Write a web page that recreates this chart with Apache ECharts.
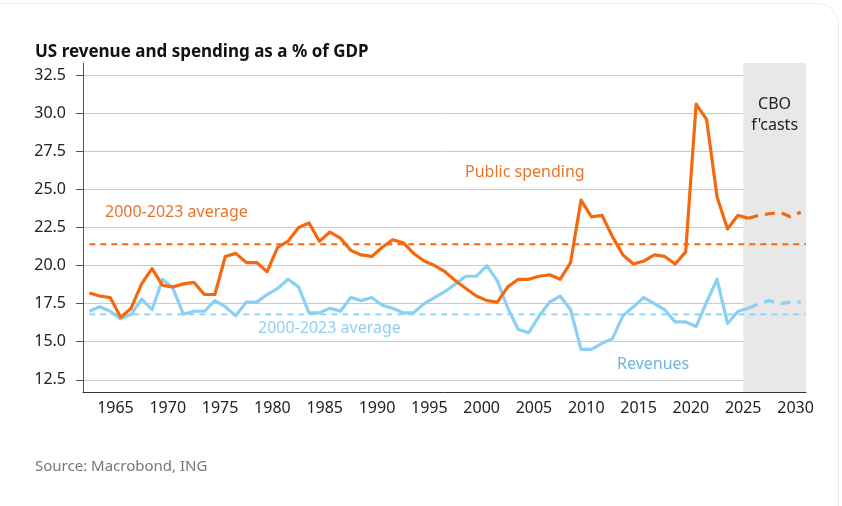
<!DOCTYPE html>
<html lang="en">
<head>
    <meta charset="UTF-8">
    <title>US revenue and spending as a % of GDP</title>
    <script src="https://cdn.jsdelivr.net/npm/echarts@6/dist/echarts.min.js"></script>
    <style>
        html, body { margin: 0; padding: 0; background: #fff; overflow: hidden; }
        #frame {
            position: absolute; left: -40px; top: 3px; right: 3px; bottom: -40px;
            border: 1px solid #ececec; border-radius: 22px;
        }
        #chart { position: absolute; left: 0; top: 0; width: 842px; height: 506px; }
    </style>
</head>
<body>
    <div id="frame"></div>
    <div id="chart"></div>

    <script>
        // 历史数据 1962-2025
        const firstYear = 1962;
        const spending = [
            18.2, 18.0, 17.9, 16.6, 17.2, 18.8, 19.8, 18.7, 18.6,          // 1962-1970
            18.8, 18.9, 18.1, 18.1, 20.6, 20.8, 20.2, 20.2, 19.6, 21.2,    // 1971-1980
            21.6, 22.5, 22.8, 21.6, 22.2, 21.8, 21.0, 20.7, 20.6, 21.2,    // 1981-1990
            21.7, 21.5, 20.8, 20.3, 20.0, 19.6, 19.0, 18.5, 18.0, 17.7,    // 1991-2000
            17.6, 18.6, 19.1, 19.1, 19.3, 19.4, 19.1, 20.2, 24.3, 23.2,    // 2001-2010
            23.3, 21.9, 20.7, 20.1, 20.3, 20.7, 20.6, 20.1, 20.9, 30.6,    // 2011-2020
            29.6, 24.5, 22.4, 23.3, 23.1                                   // 2021-2025
        ];
        const revenues = [
            17.0, 17.3, 17.0, 16.5, 16.8, 17.8, 17.1, 19.1, 18.5,          // 1962-1970
            16.8, 17.0, 17.0, 17.7, 17.3, 16.7, 17.6, 17.6, 18.1, 18.5,    // 1971-1980
            19.1, 18.6, 16.9, 16.9, 17.2, 17.0, 17.9, 17.7, 17.9, 17.4,    // 1981-1990
            17.2, 16.9, 16.9, 17.5, 17.9, 18.3, 18.8, 19.3, 19.3, 20.0,    // 1991-2000
            19.0, 17.2, 15.8, 15.6, 16.7, 17.6, 18.0, 17.1, 14.5, 14.5,    // 2001-2010
            14.9, 15.2, 16.7, 17.3, 17.9, 17.5, 17.1, 16.3, 16.3, 16.0,    // 2011-2020
            17.6, 19.1, 16.2, 17.0, 17.2                                   // 2021-2025
        ];

        // CBO 预测 2025-2030
        const fcastYears = [2025, 2026, 2027, 2028, 2029, 2030];
        const spendingFcast = [23.1, 23.3, 23.4, 23.5, 23.2, 23.5];
        const revenuesFcast = [17.2, 17.5, 17.7, 17.5, 17.6, 17.6];

        // 2000-2023 平均值
        const spendingAvg = 21.4;
        const revenuesAvg = 16.8;

        const yTicks = [12.5, 15.0, 17.5, 20.0, 22.5, 25.0, 27.5, 30.0, 32.5];
        const xTicks = [1965, 1970, 1975, 1980, 1985, 1990, 1995, 2000, 2005, 2010, 2015, 2020, 2025, 2030];
        const fcastBand = [2025, 2031];

        const ORANGE = '#f4690f';
        const BLUE = '#8ad0f4';

        // 年度数据画在年中
        const toPoints = (start, arr) => arr.map((v, i) => [start + i + 0.5, v]);

        const chart = echarts.init(document.getElementById('chart'));

        const option = {
            animation: false,
            textStyle: { fontFamily: 'Noto Sans' },
            title: {
                text: 'US revenue and spending as a % of GDP',
                left: 30, top: 39,
                textStyle: { fontSize: 17, fontWeight: 'bold', color: '#111', fontFamily: 'Noto Sans' }
            },
            grid: { left: 83, right: 36, top: 63, bottom: 114 },
            xAxis: {
                type: 'value',
                min: 1961.9,
                max: fcastBand[1],
                axisLine: { lineStyle: { color: '#333', width: 1 } },
                axisTick: { show: false },
                splitLine: { show: false },
                axisLabel: {
                    customValues: xTicks,
                    color: '#222', fontSize: 16, margin: 8,
                    formatter: v => String(v)
                }
            },
            yAxis: {
                type: 'value',
                min: 11.7,
                max: 33.3,
                axisLine: { show: true, lineStyle: { color: '#555', width: 1 } },
                axisTick: { show: true, customValues: yTicks, length: 7, lineStyle: { color: '#555' } },
                splitLine: { show: true, lineStyle: { color: '#c9c9c9', width: 1 } },
                axisLabel: {
                    customValues: yTicks,
                    color: '#222', fontSize: 16, margin: 17,
                    formatter: v => v.toFixed(1)
                }
            },
            series: [
                {
                    // 预测区背景
                    type: 'line', data: [], z: -1, silent: true,
                    markArea: {
                        silent: true,
                        itemStyle: { color: '#e8e8e8' },
                        label: {
                            show: true, position: 'insideTop', distance: 31,
                            color: '#222', fontSize: 16, lineHeight: 21,
                            formatter: "CBO\nf'casts"
                        },
                        data: [[{ xAxis: fcastBand[0] }, { xAxis: fcastBand[1] }]]
                    }
                },
                {
                    name: 'Spending avg', type: 'line', symbol: 'none', z: 1,
                    lineStyle: { color: ORANGE, width: 1.8, type: [6, 5] },
                    data: [[firstYear + 0.5, spendingAvg], [fcastBand[1], spendingAvg]]
                },
                {
                    name: 'Revenues avg', type: 'line', symbol: 'none', z: 1,
                    lineStyle: { color: BLUE, width: 1.8, type: [6, 5] },
                    data: [[firstYear + 0.5, revenuesAvg], [fcastBand[1], revenuesAvg]]
                },
                {
                    name: 'Revenues', type: 'line', symbol: 'none', z: 2,
                    lineStyle: { color: BLUE, width: 3.2, join: 'round' },
                    data: toPoints(firstYear, revenues)
                },
                {
                    name: 'Revenues fcast', type: 'line', symbol: 'none', z: 2,
                    lineStyle: { color: BLUE, width: 3.2, type: [10, 7] },
                    data: toPoints(fcastYears[0], revenuesFcast)
                },
                {
                    name: 'Public spending', type: 'line', symbol: 'none', z: 3,
                    lineStyle: { color: ORANGE, width: 3.2, join: 'round' },
                    data: toPoints(firstYear, spending)
                },
                {
                    name: 'Spending fcast', type: 'line', symbol: 'none', z: 3,
                    lineStyle: { color: ORANGE, width: 3.2, type: [10, 7] },
                    data: toPoints(fcastYears[0], spendingFcast)
                }
            ],
            graphic: [
                { type: 'text', left: 105, top: 204, style: { text: '2000-2023 average', fill: '#e8742a', font: '16px "Noto Sans"' } },
                { type: 'text', left: 465, top: 164, style: { text: 'Public spending', fill: '#e8742a', font: '16px "Noto Sans"' } },
                { type: 'text', left: 258, top: 320, style: { text: '2000-2023 average', fill: '#8fd0f0', font: '16px "Noto Sans"' } },
                { type: 'text', left: 617, top: 356, style: { text: 'Revenues', fill: '#6fb3df', font: '16px "Noto Sans"' } },
                { type: 'text', left: 35, top: 459, style: { text: 'Source: Macrobond, ING', fill: '#777', font: '15px "Noto Sans"' } }
            ]
        };

        chart.setOption(option);
        window.addEventListener('resize', () => chart.resize());
    </script>
</body>
</html>
